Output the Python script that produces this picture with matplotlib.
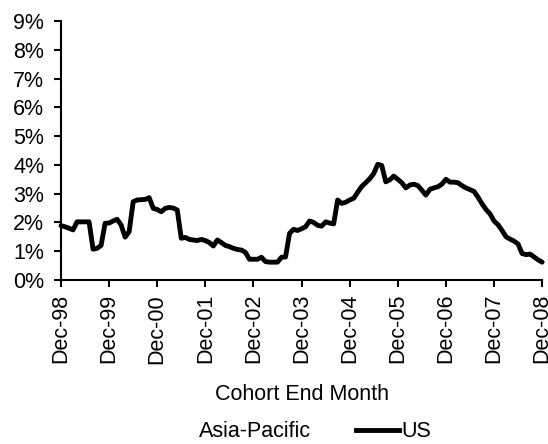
import matplotlib
matplotlib.use('Agg')
import matplotlib.pyplot as plt
from matplotlib.lines import Line2D
import numpy as np

# monthly default-rate values (%), Dec-98 .. Dec-08
us = [1.89, 1.85, 1.80, 1.74, 2.02, 2.02, 2.02, 2.02, 1.07, 1.10,
      1.20, 1.97, 1.98, 2.05, 2.11, 1.91, 1.49, 1.68, 2.72, 2.78,
      2.79, 2.80, 2.86, 2.49, 2.45, 2.37, 2.49, 2.52, 2.50, 2.43,
      1.45, 1.48, 1.41, 1.39, 1.37, 1.41, 1.37, 1.30, 1.18, 1.39,
      1.30, 1.20, 1.16, 1.10, 1.06, 1.04, 0.96, 0.72, 0.72, 0.72,
      0.79, 0.64, 0.62, 0.62, 0.62, 0.79, 0.80, 1.62, 1.76, 1.72,
      1.78, 1.85, 2.05, 2.00, 1.90, 1.87, 2.02, 1.98, 1.95, 2.78,
      2.66, 2.70, 2.78, 2.84, 3.05, 3.25, 3.38, 3.52, 3.70, 4.02,
      3.98, 3.41, 3.48, 3.61, 3.50, 3.38, 3.20, 3.30, 3.33, 3.28,
      3.12, 2.95, 3.15, 3.20, 3.24, 3.33, 3.50, 3.40, 3.40, 3.38,
      3.28, 3.20, 3.14, 3.08, 2.88, 2.65, 2.45, 2.30, 2.05, 1.92,
      1.72, 1.50, 1.42, 1.35, 1.25, 0.92, 0.88, 0.90, 0.80, 0.70,
      0.62]
tick_labels = ['Dec-98', 'Dec-99', 'Dec-00', 'Dec-01', 'Dec-02', 'Dec-03',
               'Dec-04', 'Dec-05', 'Dec-06', 'Dec-07', 'Dec-08']
y_labels = ['%d%%' % v for v in range(0, 10)]

plt.rcParams['font.family'] = ['Liberation Sans', 'DejaVu Sans']
fs = 15.5

fig = plt.figure(figsize=(5.48, 4.44), dpi=100)
ax = fig.add_axes([0.1113, 0.3694, 0.878, 0.5833])

months = np.arange(len(us))
ax.plot(months, us, color='black', lw=3.5, solid_joinstyle='round',
        solid_capstyle='round', clip_on=False)

ax.set_xlim(0, 120)
ax.set_ylim(0, 9)
ax.set_xticks(np.arange(0, 121, 12))
ax.set_xticklabels(tick_labels, rotation=90, fontsize=fs)
ax.set_yticks(range(0, 10))
ax.set_yticklabels(y_labels, fontsize=fs)
ax.tick_params(axis='both', direction='out', length=5, width=1.5, color='black')
ax.tick_params(axis='y', pad=7)
ax.tick_params(axis='x', pad=5)

for s in ['top', 'right']:
    ax.spines[s].set_visible(False)
for s in ['left', 'bottom']:
    ax.spines[s].set_linewidth(1.5)

ax.set_xlabel('Cohort End Month', fontsize=fs, labelpad=15)

handles = [Line2D([], [], color='white', lw=3.5),
           Line2D([], [], color='black', lw=3.5)]
fig.legend(handles, ['Asia-Pacific', 'US'], loc='center',
           bbox_to_anchor=(0.533, 0.028), ncol=2, frameon=False, fontsize=fs,
           handlelength=2.0, handletextpad=0.1, columnspacing=2.1,
           borderpad=0.1)

plt.savefig('out.png', dpi=100)
